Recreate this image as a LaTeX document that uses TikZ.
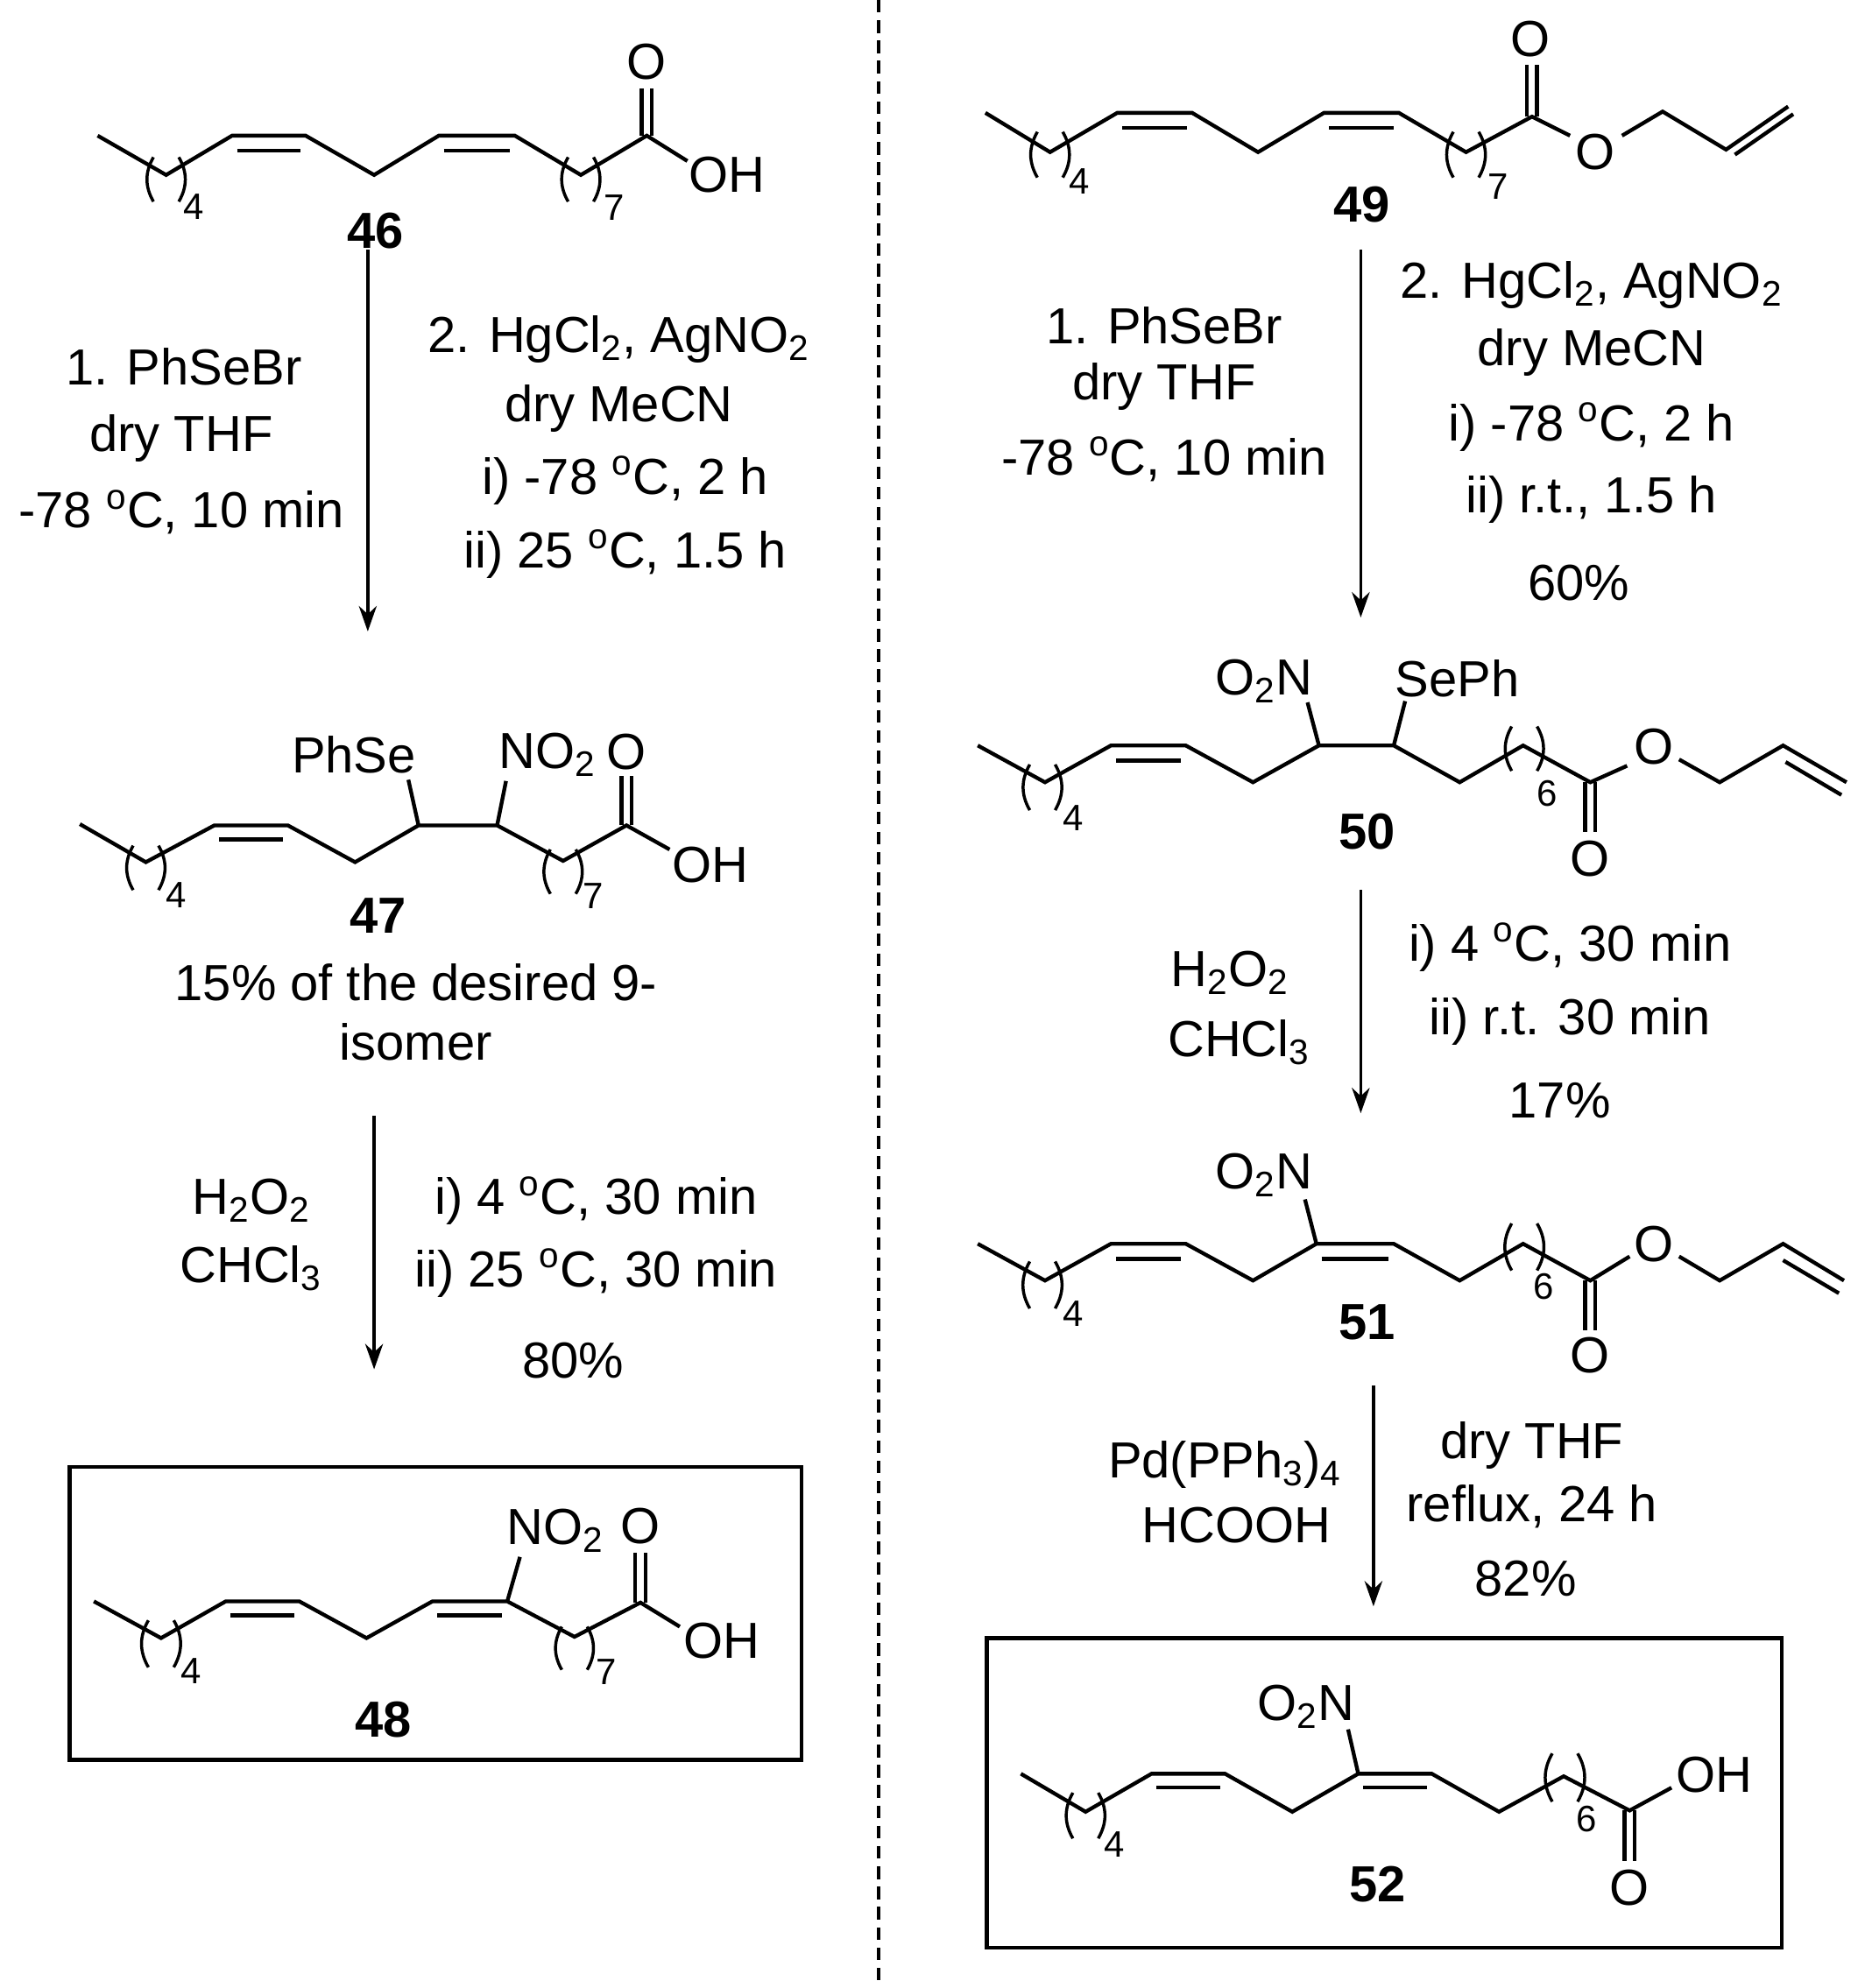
\documentclass[tikz,border=0pt]{standalone}
\usepackage{fontspec}
\setmainfont{Liberation Sans}
\usetikzlibrary{arrows.meta}
\newcounter{nd}
\newcommand\T[4][txt]{\stepcounter{nd}\node[#1] (n\thend) at (#2,#3) {#4};}
\newcommand\LP[3]{\draw[thin] (#1,#2) to[out=240,in=120] (#1,#3);}
\newcommand\RP[3]{\draw[thin] (#1,#2) to[out=300,in=60] (#1,#3);}
\begin{document}
\begin{tikzpicture}[x=0.5pt,y=-0.5pt,line width=1.5pt,line join=miter,
  txt/.style={inner sep=0pt,font=\fontsize{20}{24}\selectfont},
  lbl/.style={inner sep=0pt,font=\fontsize{20}{24}\selectfont\bfseries},
  sub/.style={inner sep=0pt,font=\fontsize{14.5}{17}\selectfont},
  thin/.style={line width=1.2pt},
  rxn/.style={line width=1.3pt,-{Stealth[length=10pt,width=7pt]}}]
\useasboundingbox (0,0) rectangle (1470,1568);
% divider
\coordinate (d1) at (693,0); \coordinate (d2) at (693,1568);
\draw[line width=1.3pt,dash pattern=on 5pt off 3pt] (d1) -- (d2);

% ===== 46 =====
\draw (77,107) -- (131,138) -- (183,107) -- (241,107) -- (295,138) -- (346,107) -- (406,107) -- (458,138) -- (510,107) -- (542,127);
\draw (187,119) -- (237,119);
\draw (350,119) -- (402,119);
\draw (506,107) -- (506,70); \draw (514,107) -- (514,70);
\T{510}{49}{O}
\T{573}{138}{OH}
\LP{121}{124}{159}\RP{141}{124}{159}\T[sub]{153}{163}{4}
\LP{448}{124}{159}\RP{468}{124}{159}\T[sub]{484}{164}{7}
\T[lbl]{296}{182}{46}

% ===== 47 =====
\draw (63,650) -- (115,680) -- (169,651) -- (227,651) -- (280,680) -- (330,651) -- (392,651) -- (444,679) -- (494,651) -- (528,670);
\draw (173,662) -- (223,662);
\draw (330,651) -- (322,615);
\draw (392,651) -- (399,616);
\draw (490,651) -- (490,612); \draw (498,651) -- (498,612);
\T{279}{595}{PhSe}
\node[txt,anchor=west] (no47) at (392,595) {NO\textsubscript{2}};
\T{494}{593}{O}
\T{560}{682}{OH}
\LP{105}{667}{702}\RP{125}{667}{702}\T[sub]{139}{706}{4}
\LP{434}{670}{705}\RP{454}{670}{705}\T[sub]{468}{707}{7}
\T[lbl]{298}{722}{47}
\T{328}{775}{15\% of the desired 9-}
\T{328}{822}{isomer}

% ===== 48 =====
\draw (55,1157) rectangle (632,1388);
\draw (74,1263) -- (127,1292) -- (178,1263) -- (236,1263) -- (289,1292) -- (341,1263) -- (400,1263) -- (453,1291) -- (505,1264) -- (536,1283);
\draw (182,1274) -- (232,1274);
\draw (345,1274) -- (396,1274);
\draw (400,1263) -- (410,1228);
\draw (501,1264) -- (501,1225); \draw (509,1264) -- (509,1225);
\node[txt,anchor=west] (no48) at (398,1207) {NO\textsubscript{2}};
\T{505}{1204}{O}
\T{569}{1294}{OH}
\LP{117}{1278}{1315}\RP{137}{1278}{1315}\T[sub]{151}{1318}{4}
\LP{443}{1283}{1317}\RP{463}{1283}{1317}\T[sub]{478}{1319}{7}
\T[lbl]{302}{1356}{48}

% ===== 49 =====
\draw (777,89) -- (828,120) -- (881,89) -- (940,89) -- (992,120) -- (1044,89) -- (1103,89) -- (1156,120) -- (1208,92) -- (1238,107);
\draw (885,101) -- (936,101);
\draw (1048,101) -- (1099,101);
\draw (1204,92) -- (1204,51); \draw (1212,92) -- (1212,51);
\draw (1279,107) -- (1311,88) -- (1361,118) -- (1410,84);
\draw (1368,122) -- (1414,90);
\T{1207}{31}{O}
\T{1258}{120}{O}
\LP{818}{104}{140}\RP{838}{104}{140}\T[sub]{851}{143}{4}
\LP{1146}{104}{140}\RP{1166}{104}{140}\T[sub]{1181}{147}{7}
\T[lbl]{1074}{161}{49}

% ===== 50 =====
\draw (771,588) -- (824,617) -- (876,588) -- (935,588) -- (988,617) -- (1040,588) -- (1099,588) -- (1151,617) -- (1201,588) -- (1254,617) -- (1283,604);
\draw (880,600) -- (931,600);
\draw (1040,588) -- (1031,554);
\draw (1099,588) -- (1108,553);
\draw (1250,617) -- (1250,656); \draw (1258,617) -- (1258,656);
\draw (1324,599) -- (1356,617) -- (1406,588) -- (1456,617);
\draw (1408,601) -- (1452,627);
\T{997}{537}{O\textsubscript{2}N}
\T{1149}{535}{SePh}
\T{1304}{589}{O}
\T{1254}{677}{O}
\LP{812}{603}{639}\RP{832}{603}{639}\T[sub]{846}{645}{4}
\LP{1192}{573}{608}\RP{1212}{573}{608}\T[sub]{1220}{626}{6}
\T[lbl]{1078}{656}{50}

% ===== 51 =====
\draw (771,981) -- (824,1010) -- (876,981) -- (935,981) -- (988,1010) -- (1038,981) -- (1099,981) -- (1151,1010) -- (1201,981) -- (1254,1010) -- (1285,991);
\draw (880,993) -- (931,993);
\draw (1042,993) -- (1095,993);
\draw (1038,981) -- (1029,946);
\draw (1250,1010) -- (1250,1049); \draw (1258,1010) -- (1258,1049);
\draw (1324,991) -- (1356,1010) -- (1406,981) -- (1454,1010);
\draw (1406,994) -- (1450,1020);
\T{997}{927}{O\textsubscript{2}N}
\T{1304}{981}{O}
\T{1254}{1069}{O}
\LP{812}{995}{1032}\RP{832}{995}{1032}\T[sub]{846}{1036}{4}
\LP{1192}{965}{1002}\RP{1212}{965}{1002}\T[sub]{1217}{1015}{6}
\T[lbl]{1078}{1043}{51}

% ===== 52 =====
\draw (778,1292) rectangle (1405,1536);
\draw (805,1399) -- (856,1429) -- (908,1399) -- (966,1399) -- (1019,1429) -- (1071,1399) -- (1129,1399) -- (1182,1429) -- (1233,1401) -- (1285,1428) -- (1318,1410);
\draw (912,1410) -- (962,1410);
\draw (1075,1410) -- (1125,1410);
\draw (1071,1399) -- (1063,1364);
\draw (1281,1428) -- (1281,1468); \draw (1289,1428) -- (1289,1468);
\T{1030}{1346}{O\textsubscript{2}N}
\T{1352}{1400}{OH}
\T{1285}{1489}{O}
\LP{846}{1414}{1450}\RP{866}{1414}{1450}\T[sub]{879}{1455}{4}
\LP{1224}{1383}{1421}\RP{1244}{1383}{1421}\T[sub]{1251}{1435}{6}
\T[lbl]{1086}{1486}{52}

% ===== arrows =====
\coordinate (a1s) at (290,197); \coordinate (a1e) at (290,498);
\coordinate (a2s) at (295,880); \coordinate (a2e) at (295,1080);
\coordinate (a3s) at (1073,197); \coordinate (a3e) at (1073,487);
\coordinate (a4s) at (1073,702); \coordinate (a4e) at (1073,878);
\coordinate (a5s) at (1083,1093); \coordinate (a5e) at (1083,1267);
\draw[rxn] (a1s) -- (a1e);
\draw[rxn] (a2s) -- (a2e);
\draw[rxn] (a3s) -- (a3e);
\draw[rxn] (a4s) -- (a4e);
\draw[rxn] (a5s) -- (a5e);

% conditions left
\T{145}{289}{1. PhSeBr}
\T{143}{346}{dry THF}
\T{143}{404}{-78 \textsuperscript{o}C, 10 min}
\T{488}{268}{2. HgCl\textsubscript{2}, AgNO\textsubscript{2}}
\T{488}{322}{dry MeCN}
\T{493}{379}{i) -78 \textsuperscript{o}C, 2 h}
\T{493}{437}{ii) 25 \textsuperscript{o}C, 1.5 h}
\T{198}{947}{H\textsubscript{2}O\textsubscript{2}}
\T{198}{1000}{CHCl\textsubscript{3}}
\T{470}{947}{i) 4 \textsuperscript{o}C, 30 min}
\T{470}{1004}{ii) 25 \textsuperscript{o}C, 30 min}
\T{452}{1073}{80\%}
% conditions right
\T{918}{257}{1. PhSeBr}
\T{918}{305}{dry THF}
\T{918}{362}{-78 \textsuperscript{o}C, 10 min}
\T{1255}{225}{2. HgCl\textsubscript{2}, AgNO\textsubscript{2}}
\T{1255}{278}{dry MeCN}
\T{1255}{337}{i) -78 \textsuperscript{o}C, 2 h}
\T{1255}{394}{ii) r.t., 1.5 h}
\T{1245}{460}{60\%}
\T{970}{767}{H\textsubscript{2}O\textsubscript{2}}
\T{977}{822}{CHCl\textsubscript{3}}
\T{1238}{747}{i) 4 \textsuperscript{o}C, 30 min}
\T{1238}{806}{ii) r.t. 30 min}
\T{1230}{868}{17\%}
\T{966}{1155}{Pd(PPh\textsubscript{3})\textsubscript{4}}
\T{975}{1203}{HCOOH}
\T{1208}{1140}{dry THF}
\T{1208}{1188}{reflux, 24 h}
\T{1203}{1245}{82\%}
\end{tikzpicture}
\end{document}
